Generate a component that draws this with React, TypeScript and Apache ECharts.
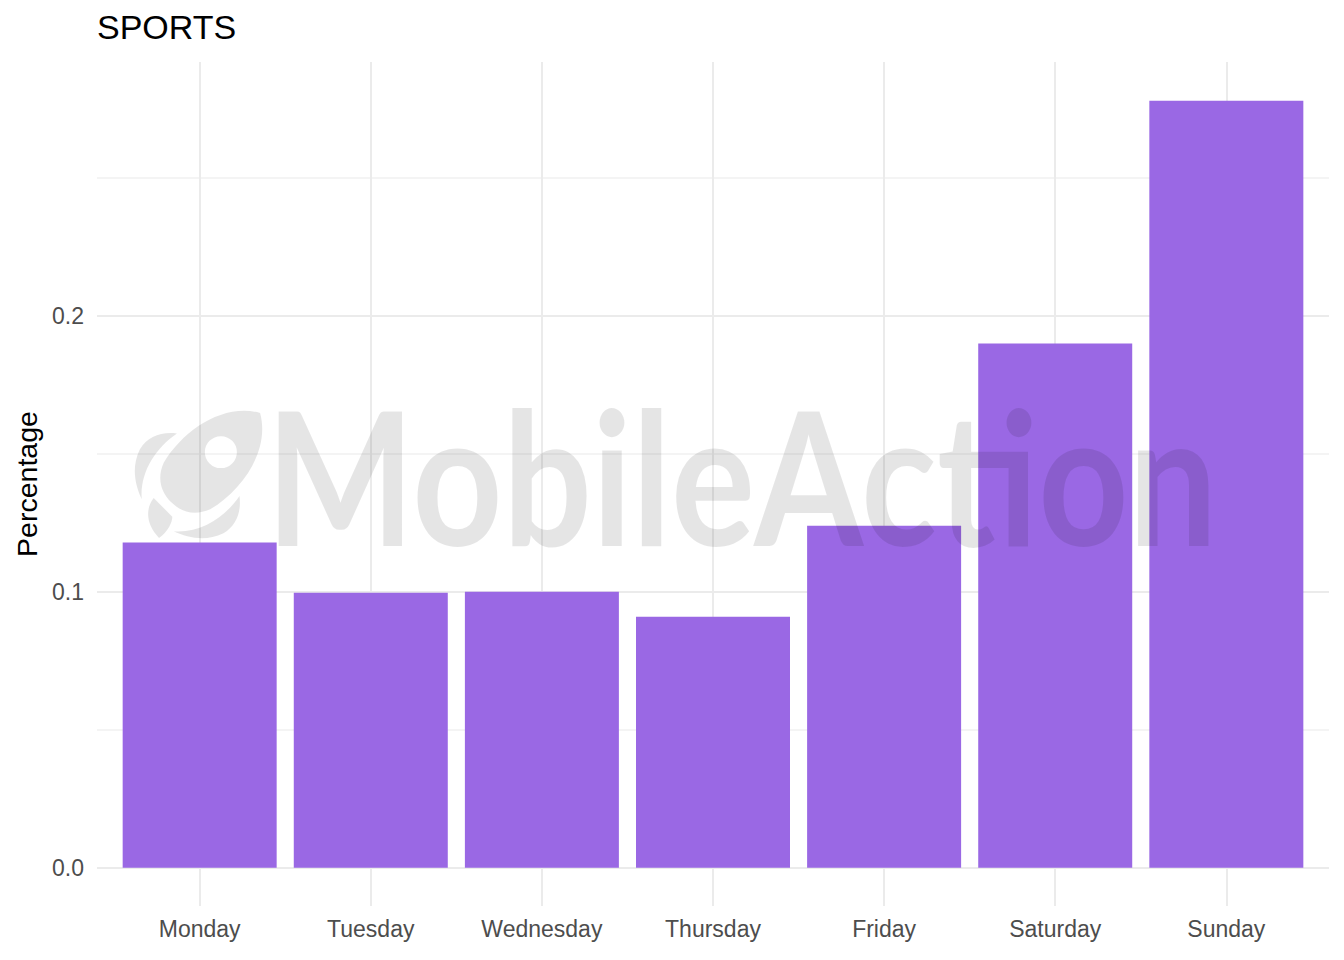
import React, { useEffect, useRef } from "react";
import * as echarts from "echarts";

const days = ["Monday", "Tuesday", "Wednesday", "Thursday", "Friday", "Saturday", "Sunday"];
const values = [0.1178, 0.0996, 0.1, 0.0909, 0.1239, 0.1899, 0.2779];
const yGridValues = [0, 0.05, 0.1, 0.15, 0.2, 0.25];
const yLabelValues = [0, 0.1, 0.2];
const xTickIdx = [0, 1, 2, 3, 4, 5, 6];

const ROCKET_D =
  "M 140 0 C 120 -35 70 -45 30 -35 C 12 -28 6 -14 6 0 C 6 14 12 28 30 35 C 70 45 120 35 140 0 Z " +
  "M 98 0 A 17 17 0 1 1 64 0 A 17 17 0 1 1 98 0 Z " +
  "M 62 -47 C 35 -52 5 -46 -14 -24 C -8 -40 2 -56 22 -63 C 38 -67 52 -60 62 -47 Z " +
  "M 62 47 C 35 52 5 46 -14 24 C -8 40 2 56 22 63 C 38 67 52 60 62 47 Z " +
  "M -4 -16 C -20 -14 -30 0 -30 18 C -18 20 -8 16 -4 12 Z";

let registered = false;

export default function App() {
  const ref = useRef<HTMLDivElement>(null);
  useEffect(() => {
    if (!registered) {
      echarts.graphic.registerShape("rocket", echarts.graphic.extendPath(ROCKET_D, {}));
      registered = true;
    }
    const chart = echarts.init(ref.current!, null, { renderer: "svg" });
    const font = "Liberation Sans, Arial, sans-serif";
    chart.setOption({
      animation: false,
      backgroundColor: "#ffffff",
      title: {
        text: "SPORTS",
        left: 92,
        top: 5,
        textStyle: { fontSize: 34, fontWeight: "normal", color: "#000000", fontFamily: font },
      },
      grid: { left: 97, right: 15, top: 62, bottom: 54 },
      xAxis: {
        type: "value",
        min: -0.6,
        max: 6.6,
        axisLine: { show: false },
        axisTick: { show: false, customValues: xTickIdx },
        splitLine: { show: true, lineStyle: { color: "#ebebeb", width: 2 } },
        axisLabel: {
          customValues: xTickIdx,
          formatter: (v: number) => days[Math.round(v)] ?? "",
          fontSize: 23,
          color: "#4d4d4d",
          fontFamily: font,
          margin: 11,
        },
      },
      yAxis: {
        type: "value",
        min: -0.0139,
        max: 0.2919,
        name: "Percentage",
        nameLocation: "middle",
        nameGap: 56,
        nameTextStyle: { fontSize: 28.5, color: "#000000", fontFamily: font },
        axisLine: { show: false },
        axisTick: { show: false, customValues: yGridValues },
        splitLine: { show: true, lineStyle: { color: ["#ebebeb", "#f4f4f4"], width: 2 } },
        axisLabel: {
          customValues: yLabelValues,
          formatter: (v: number) => v.toFixed(1),
          fontSize: 23,
          color: "#4d4d4d",
          fontFamily: font,
          margin: 13,
        },
      },
      series: [
        {
          type: "bar",
          data: values.map((v, i) => [i, v]),
          barWidth: "90%",
          itemStyle: { color: "#9a68e4" },
        },
      ],
      graphic: [
        {
          type: "rocket",
          x: 167,
          y: 506,
          scaleX: 0.94,
          scaleY: 0.94,
          rotation: Math.PI / 4,
          z: 100,
          silent: true,
          style: { fill: "rgba(0,0,0,0.1)" },
        },
        {
          type: "text",
          x: 266,
          y: 381,
          scaleX: 0.846,
          z: 100,
          silent: true,
          style: {
            text: "MobileAction",
            fontSize: 186,
            fontFamily: "Lato",
            fontWeight: 700,
            fill: "rgba(0,0,0,0.1)",
          },
        },
      ],
    });
    return () => chart.dispose();
  }, []);
  return <div ref={ref} style={{ position: "fixed", left: 0, top: 0, width: 1344, height: 960 }} />;
}
